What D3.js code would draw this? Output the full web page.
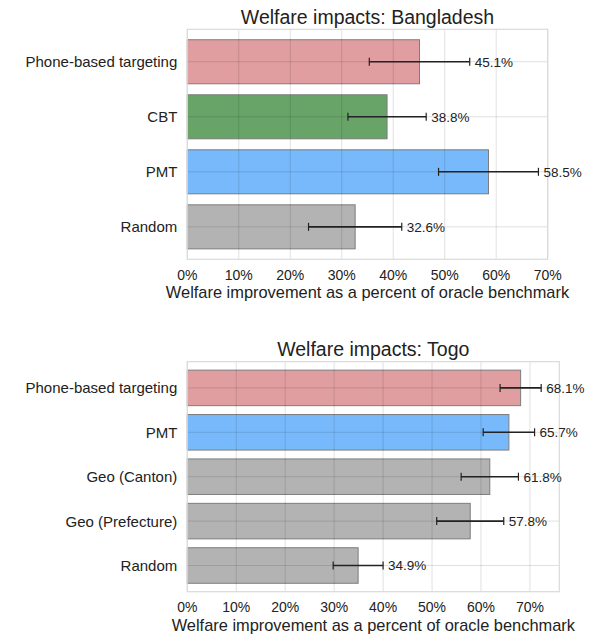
<!DOCTYPE html>
<html>
<head>
<meta charset="utf-8">
<script src="https://cdn.jsdelivr.net/npm/d3@7"></script>
<style>
  body { margin: 0; background: #fff; }
  svg { font-family: "Liberation Sans", Arial, Helvetica, sans-serif; }
</style>
</head>
<body>
<div id="chart"></div>
<script>
// Data
const bdCategories = ["Phone-based targeting", "CBT", "PMT", "Random"];
const bdValues = [45.1, 38.8, 58.5, 32.6];
const bdErrors = [9.75, 7.6, 9.7, 9.05];

const tgCategories = ["Phone-based targeting", "PMT", "Geo (Canton)", "Geo (Prefecture)", "Random"];
const tgValues = [68.1, 65.7, 61.8, 57.8, 34.9];
const tgErrors = [4.2, 5.25, 5.85, 6.85, 5.1];

const xTicks = [0, 10, 20, 30, 40, 50, 60, 70];

const colorOf = {
    "Phone-based targeting": "#e09ea1",
    "CBT": "#68a468",
    "PMT": "#77b9fb"
};
const defaultColor = "#b3b3b3";

const width = 612;
const height = 643;

const svg = d3.select("#chart").append("svg")
    .attr("width", width)
    .attr("height", height);

function drawPanel(opts) {
    const { title, cats, vals, errs, xMax, top, bottom, right } = opts;
    const left = 187.3;

    const x = d3.scaleLinear().domain([0, xMax]).range([left, right]);
    // matplotlib-style barh: bars at 0..n-1 with a margin around them
    const y = d3.scaleLinear().domain([-0.59, cats.length - 1 + 0.59]).range([top, bottom]);
    const step = y(1) - y(0);
    const barH = step * 0.8;

    const g = svg.append("g");

    // bars
    g.selectAll("rect.bar")
        .data(cats)
        .enter()
        .append("rect")
        .attr("class", "bar")
        .attr("x", x(0))
        .attr("y", (d, i) => y(i) - barH / 2)
        .attr("width", (d, i) => x(vals[i]) - x(0))
        .attr("height", barH)
        .attr("fill", d => colorOf[d] || defaultColor)
        .attr("stroke", "#7d7d7d")
        .attr("stroke-width", 1);

    // grid on top (light, see-through)
    g.selectAll("line.vgrid")
        .data(xTicks)
        .enter()
        .append("line")
        .attr("x1", d => x(d)).attr("x2", d => x(d))
        .attr("y1", top).attr("y2", bottom)
        .attr("stroke", "rgba(0,0,0,0.12)")
        .attr("stroke-width", 1);

    g.selectAll("line.hgrid")
        .data(cats)
        .enter()
        .append("line")
        .attr("x1", left).attr("x2", right)
        .attr("y1", (d, i) => y(i)).attr("y2", (d, i) => y(i))
        .attr("stroke", "rgba(0,0,0,0.12)")
        .attr("stroke-width", 1);

    // frame
    g.append("rect")
        .attr("x", left).attr("y", top)
        .attr("width", right - left).attr("height", bottom - top)
        .attr("fill", "none")
        .attr("stroke", "#dadada")
        .attr("stroke-width", 1.2);

    // error bars
    const eb = g.selectAll("g.err")
        .data(cats)
        .enter()
        .append("g");
    eb.append("line")
        .attr("x1", (d, i) => x(vals[i] - errs[i]))
        .attr("x2", (d, i) => x(vals[i] + errs[i]))
        .attr("y1", (d, i) => y(i)).attr("y2", (d, i) => y(i))
        .attr("stroke", "#222").attr("stroke-width", 1.6);
    [-1, 1].forEach(s => {
        eb.append("line")
            .attr("x1", (d, i) => x(vals[i] + s * errs[i]))
            .attr("x2", (d, i) => x(vals[i] + s * errs[i]))
            .attr("y1", (d, i) => y(i) - 4).attr("y2", (d, i) => y(i) + 4)
            .attr("stroke", "#222").attr("stroke-width", 1.2);
    });

    // value labels
    g.selectAll("text.val")
        .data(cats)
        .enter()
        .append("text")
        .attr("x", (d, i) => x(vals[i] + errs[i]) + 5)
        .attr("y", (d, i) => y(i))
        .attr("dy", "0.36em")
        .attr("font-size", "13.5px")
        .attr("fill", "#222")
        .text((d, i) => vals[i].toFixed(1) + "%");

    // y tick labels
    g.selectAll("text.ylab")
        .data(cats)
        .enter()
        .append("text")
        .attr("x", left - 10)
        .attr("y", (d, i) => y(i))
        .attr("dy", "0.36em")
        .attr("text-anchor", "end")
        .attr("font-size", "15px")
        .attr("fill", "#222")
        .text(d => d);

    // x tick labels
    g.selectAll("text.xlab")
        .data(xTicks)
        .enter()
        .append("text")
        .attr("x", d => x(d))
        .attr("y", bottom + 20.5)
        .attr("text-anchor", "middle")
        .attr("font-size", "14px")
        .attr("fill", "#222")
        .text(d => d + "%");

    // axis title
    g.append("text")
        .attr("x", (left + right) / 2)
        .attr("y", bottom + 39)
        .attr("text-anchor", "middle")
        .attr("font-size", "16.4px")
        .attr("fill", "#222")
        .text("Welfare improvement as a percent of oracle benchmark");

    // chart title
    g.append("text")
        .attr("x", (left + right) / 2)
        .attr("y", top - 5.5)
        .attr("text-anchor", "middle")
        .attr("font-size", "19.5px")
        .attr("fill", "#222")
        .text(title);
}

drawPanel({
    title: "Welfare impacts: Bangladesh",
    cats: bdCategories, vals: bdValues, errs: bdErrors,
    xMax: 70, top: 29.3, bottom: 259.3, right: 547.7
});

drawPanel({
    title: "Welfare impacts: Togo",
    cats: tgCategories, vals: tgValues, errs: tgErrors,
    xMax: 76, top: 361.7, bottom: 591.7, right: 559.3
});
</script>
</body>
</html>
